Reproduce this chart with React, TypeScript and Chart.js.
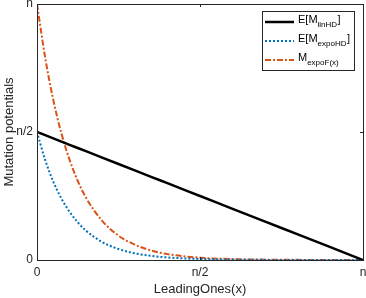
import React, { useEffect, useRef } from "react";
import { Chart, registerables } from "chart.js";

Chart.register(...registerables);

const xValues = [0, 0.025, 0.05, 0.075, 0.1, 0.125, 0.15, 0.2, 0.25, 0.3, 0.35, 0.4, 0.5, 0.6, 0.7, 0.8, 0.9, 1.0];
const linHD = [0.5, 0.4875, 0.475, 0.4625, 0.45, 0.4375, 0.425, 0.4, 0.375, 0.35, 0.325, 0.3, 0.25, 0.2, 0.15, 0.1, 0.05, 0];
const expoHD = [0.5, 0.391, 0.306, 0.24, 0.188, 0.147, 0.115, 0.07, 0.043, 0.026, 0.016, 0.01, 0.004, 0.0015, 0.0005, 0.0002, 0.0001, 0];
const expoF = [1.0, 0.791, 0.625, 0.494, 0.391, 0.309, 0.244, 0.153, 0.095, 0.06, 0.037, 0.023, 0.009, 0.0035, 0.0014, 0.0005, 0.0002, 0.0001];
const tickLabels = ["0", "n/2", "n"];
const tickValues = [0, 0.5, 1];

const seriesNames = [
  { main: "E[M", sub: "linHD", tail: "]" },
  { main: "E[M", sub: "expoHD", tail: "]" },
  { main: "M", sub: "expoF(x)", tail: "" },
];
const colors = ["#000000", "#0072BD", "#D95319"];
const dashes = [[], [2, 2], [6, 2, 2, 2]];
const widths = [2.5, 2, 2];

const FONT = "Liberation Sans, Arial, Helvetica, sans-serif";

const labelFor = (v: number) => {
  const i = tickValues.findIndex((t) => Math.abs(t - v) < 1e-9);
  return i >= 0 ? tickLabels[i] : "";
};

const boxPlugin = {
  id: "matlabBox",
  afterDatasetsDraw(chart: any) {
    const { ctx, chartArea } = chart;
    const { left, right, top, bottom } = chartArea;
    ctx.save();
    ctx.strokeStyle = "#262626";
    ctx.lineWidth = 1;
    ctx.strokeRect(Math.round(left) + 0.5, Math.round(top) + 0.5, Math.round(right - left), Math.round(bottom - top));
    const xs = chart.scales.x;
    const ys = chart.scales.y;
    ctx.beginPath();
    tickValues.forEach((v) => {
      const px = Math.round(xs.getPixelForValue(v)) + 0.5;
      ctx.moveTo(px, bottom);
      ctx.lineTo(px, bottom - 3);
      ctx.moveTo(px, top);
      ctx.lineTo(px, top + 3);
      const py = Math.round(ys.getPixelForValue(v)) + 0.5;
      ctx.moveTo(left, py);
      ctx.lineTo(left + 3, py);
      ctx.moveTo(right, py);
      ctx.lineTo(right - 3, py);
    });
    ctx.stroke();
    ctx.restore();
  },
  afterDraw(chart: any) {
    const { ctx } = chart;
    ctx.save();
    const bx = 262.5, by = 11.5, bw = 92, bh = 59;
    ctx.fillStyle = "#ffffff";
    ctx.fillRect(bx, by, bw, bh);
    ctx.strokeStyle = "#262626";
    ctx.lineWidth = 1;
    ctx.strokeRect(bx, by, bw, bh);
    const rows = [22, 41, 60];
    seriesNames.forEach((s, i) => {
      const y = rows[i];
      ctx.beginPath();
      ctx.strokeStyle = colors[i];
      ctx.lineWidth = widths[i];
      ctx.setLineDash(dashes[i]);
      ctx.moveTo(265, y);
      ctx.lineTo(294, y);
      ctx.stroke();
      ctx.setLineDash([]);
      ctx.fillStyle = "#000000";
      ctx.textBaseline = "middle";
      ctx.textAlign = "left";
      let x = 298;
      ctx.font = `11px ${FONT}`;
      ctx.fillText(s.main, x, y - 2);
      x += ctx.measureText(s.main).width;
      ctx.font = `8px ${FONT}`;
      ctx.fillText(s.sub, x, y + 3);
      x += ctx.measureText(s.sub).width;
      if (s.tail) {
        ctx.font = `11px ${FONT}`;
        ctx.fillText(s.tail, x + 0.5, y - 2);
      }
    });
    ctx.restore();
  },
};

export default function App() {
  const ref = useRef<HTMLCanvasElement>(null);
  useEffect(() => {
    if (!ref.current) return;
    const mk = (vals: number[]) => xValues.map((x, i) => ({ x, y: vals[i] }));
    const chart = new Chart(ref.current, {
      type: "line",
      data: {
        datasets: [linHD, expoHD, expoF].map((vals, i) => ({
          label: seriesNames[i].main + seriesNames[i].sub + seriesNames[i].tail,
          data: mk(vals),
          borderColor: colors[i],
          backgroundColor: colors[i],
          borderWidth: widths[i],
          borderDash: dashes[i],
          pointRadius: 0,
          cubicInterpolationMode: "monotone" as const,
          fill: false,
        })),
      },
      options: {
        animation: false,
        responsive: false,
        layout: { padding: { top: 4, right: 3, left: 0, bottom: 0 } },
        plugins: { legend: { display: false }, tooltip: { enabled: false } },
        scales: {
          x: {
            type: "linear",
            min: 0,
            max: 1,
            afterFit: (s: any) => { s.height = 38; s.paddingLeft = 0; s.paddingRight = 0; },
            afterBuildTicks: (s: any) => { s.ticks = tickValues.map((v) => ({ value: v })); },
            grid: { display: false, drawTicks: false },
            border: { display: false },
            ticks: { callback: (v: any) => labelFor(Number(v)), color: "#262626", font: { family: FONT, size: 12 }, padding: 5, maxRotation: 0 },
            title: { display: true, text: "LeadingOnes(x)", color: "#262626", font: { family: FONT, size: 13 }, padding: { top: 0, bottom: 1 } },
          },
          y: {
            type: "linear",
            min: 0,
            max: 1,
            afterFit: (s: any) => { s.width = 37; s.paddingTop = 0; s.paddingBottom = 0; },
            afterBuildTicks: (s: any) => { s.ticks = tickValues.map((v) => ({ value: v })); },
            grid: { display: false, drawTicks: false },
            border: { display: false },
            ticks: { callback: (v: any) => labelFor(Number(v)), color: "#262626", font: { family: FONT, size: 12 }, padding: 4 },
            title: { display: true, text: "Mutation potentials", color: "#262626", font: { family: FONT, size: 13 }, padding: { top: 2, bottom: 0 } },
          },
        },
      },
      plugins: [boxPlugin],
    });
    return () => chart.destroy();
  }, []);
  return (
    <div style={{ position: "absolute", left: 0, top: 0, width: 366, height: 298 }}>
      <canvas ref={ref} width={366} height={298} style={{ width: 366, height: 298 }} />
    </div>
  );
}
